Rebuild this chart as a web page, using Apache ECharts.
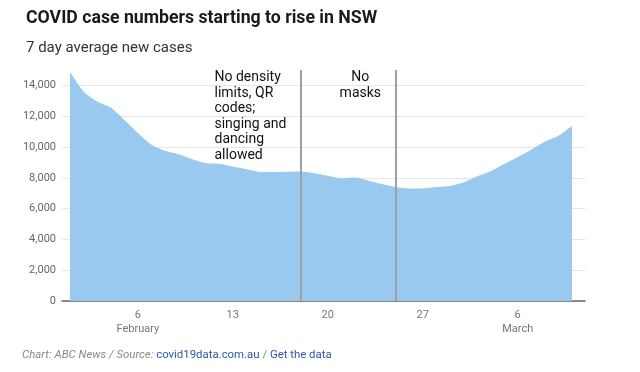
<!DOCTYPE html>
<html>
<head>
<meta charset="utf-8">
<script src="https://cdn.jsdelivr.net/npm/echarts@6/dist/echarts.min.js"></script>
<style>
html,body{margin:0;padding:0;background:#fff;}
#c{width:640px;height:372px;}
</style>
</head>
<body>
<div id="c"></div>
<script>
// Day numbers: 1 = 1 February, 29 = 1 March, 38 = 10 March
const days = [1,2,3,4,5,6,7,8,9,10,11,12,13,14,15,16,17,18,19,20,21,22,23,24,25,26,27,28,29,30,31,32,33,34,35,36,37,38];
const cases = [14820,13560,12920,12530,11730,10870,10110,9720,9500,9180,8920,8880,8700,8530,8350,8340,8360,8380,8270,8100,7930,7990,7780,7560,7370,7270,7280,7370,7430,7670,8060,8400,8860,9310,9790,10320,10690,11340];
const tickDays = [6,13,20,27,34];
const tickLabels = ['6\nFebruary','13','20','27','6\nMarch'];
const yTicks = [0,2000,4000,6000,8000,10000,12000,14000];
const eventDays = [18,25];
const annotations = [
  {day: 11.65, value: 15000, text: 'No density\nlimits, QR\ncodes;\nsinging and\ndancing\nallowed', align: 'left'},
  {day: 22.4, value: 15000, text: 'No\nmasks', align: 'center'}
];

const chart = echarts.init(document.getElementById('c'), null, {renderer: 'canvas'});
const FONT = 'Roboto, "Open Sans", sans-serif';

chart.setOption({
  animation: false,
  backgroundColor: '#fff',
  title: [
    {text: 'COVID case numbers starting to rise in NSW', left: 21, top: 5,
     textStyle: {fontFamily: FONT, fontWeight: 'bold', fontSize: 17.7, color: '#1a1a1a'}},
    {text: '7 day average new cases', left: 21, top: 36,
     textStyle: {fontFamily: FONT, fontWeight: 'normal', fontSize: 15, color: '#333'}}
  ],
  grid: {left: 62, right: 55, top: 70, bottom: 71, containLabel: false},
  xAxis: {
    type: 'value', min: 0.41, max: 38.96,
    axisLine: {show: true, lineStyle: {color: '#666', width: 1.5}},
    axisTick: {show: false},
    splitLine: {show: false},
    axisLabel: {
      customValues: tickDays,
      formatter: function (v) { const i = tickDays.indexOf(v); return i >= 0 ? tickLabels[i] : ''; },
      color: '#777', fontSize: 11, fontFamily: FONT, lineHeight: 14, margin: 7
    }
  },
  yAxis: {
    type: 'value', min: 0, max: 15000, interval: 2000,
    axisLine: {show: false}, axisTick: {show: false},
    splitLine: {show: true, lineStyle: {color: ['#e6e6e6','#e6e6e6','#e6e6e6','#e6e6e6','#e6e6e6','#e6e6e6','#e6e6e6','#e6e6e6','rgba(0,0,0,0)'], width: 1}},
    axisLabel: {
      formatter: function (v) { return yTicks.indexOf(v) >= 0 ? v.toLocaleString('en-US') : ''; },
      color: '#666', fontSize: 11, fontFamily: FONT, margin: 6
    }
  },
  series: [{
    type: 'line',
    data: days.map((d, i) => [d, cases[i]]),
    showSymbol: false,
    smooth: 0.2,
    lineStyle: {color: '#99c9ee', width: 1},
    areaStyle: {color: '#99c9ee', opacity: 1},
    z: 2,
    markLine: {
      silent: true, symbol: 'none', animation: false,
      label: {show: false},
      lineStyle: {color: '#a0a0a0', width: 2, type: 'solid'},
      data: eventDays.map(d => ({xAxis: d}))
    }
  }],
  graphic: []
});

// annotations placed through the axes
const g = annotations.map(a => {
  const p = chart.convertToPixel({gridIndex: 0}, [a.day, a.value]);
  return {type: 'text', x: p[0], y: p[1], z: 10,
    style: {text: a.text, fill: '#111', font: '14px ' + FONT, lineHeight: 15.5, textAlign: a.align, textVerticalAlign: 'top'}};
});
g.push({type: 'text', left: 22, top: 350, z: 10,
  style: {
    text: '{g|Chart: ABC News / Source: }{b|covid19data.com.au}{g2| / }{b|Get the data}',
    rich: {
      g: {fill: '#888', fontStyle: 'italic', fontSize: 11.4, fontFamily: FONT},
      g2: {fill: '#888', fontSize: 11.4, fontFamily: FONT},
      b: {fill: '#2a5aa5', fontSize: 11.4, fontFamily: FONT}
    }
  }});
chart.setOption({graphic: g});
</script>
</body>
</html>
